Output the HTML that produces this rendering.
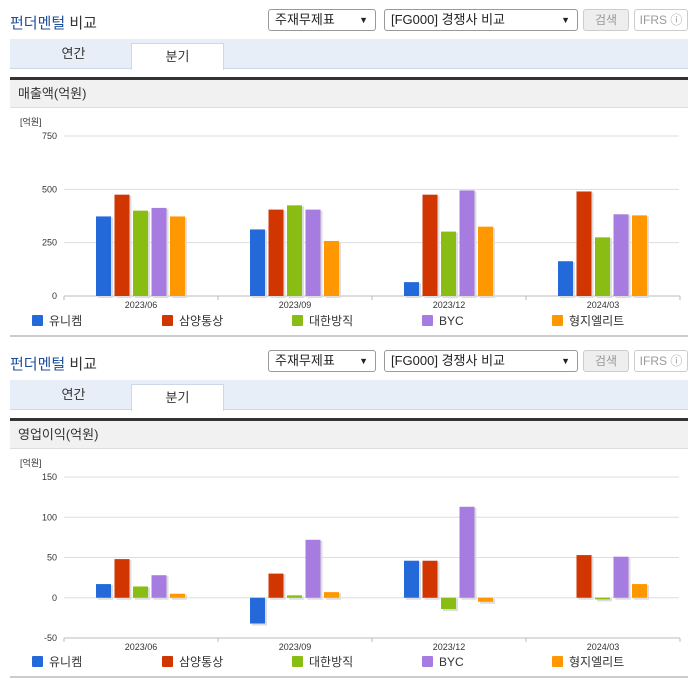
<!DOCTYPE html>
<html><head><meta charset="utf-8">
<style>
body{margin:0;width:696px;height:684px;background:#fff;font-family:"Liberation Sans","Noto Sans CJK KR",sans-serif;position:relative;overflow:hidden}
.blk{position:absolute;left:0;width:696px;height:341px}
.title{position:absolute;left:10px;top:12px;font-size:15px;color:#333}
.title b{font-weight:normal;color:#1f4e9c}
.sel{position:absolute;top:9px;border:1px solid #999;border-radius:3px;font-size:13px;line-height:20px;padding-left:6px;box-sizing:border-box;height:22px;color:#222;background:#fff}
.sel span{position:absolute;right:7px;top:0;font-size:9px}
.btn{position:absolute;top:9px;height:22px;border:1px solid #ccc;border-radius:3px;font-size:12px;line-height:20px;text-align:center;box-sizing:border-box;color:#999}
.tabs{position:absolute;left:10px;top:39px;width:678px;height:29px;background:#e8eef7;border-bottom:1px solid #cfd8e6}
.tab{position:absolute;top:0;height:29px;width:91px;text-align:center;line-height:29px;font-size:13px;color:#333}
.tab.on{background:#fff;border:1px solid #cfd8e6;border-bottom:none;top:4px;height:26px;line-height:26px}
.bar3{position:absolute;left:10px;top:77px;width:678px;height:3px;background:#333}
.sec{position:absolute;left:10px;top:80px;width:678px;height:28px;background:#f1f1f1;border-bottom:1px solid #ddd;font-size:13px;line-height:28px;padding-left:8px;box-sizing:border-box;color:#333}
.bot{position:absolute;left:10px;top:335px;width:678px;height:2px;background:#ccc}
svg{position:absolute;left:0;top:108px}
</style></head><body>
<div class="blk" id="b1" style="top:0">
<div class="title"><b>펀더멘털</b> 비교</div>
<div class="sel" style="left:268px;width:108px">주재무제표<span>▼</span></div>
<div class="sel" style="left:384px;width:194px">[FG000] 경쟁사 비교<span>▼</span></div>
<div class="btn" style="left:583px;width:46px;background:#eee">검색</div>
<div class="btn" style="left:634px;width:54px">IFRS ⓘ</div>
<div class="tabs"><div class="tab" style="left:18px">연간</div><div class="tab on" style="left:121px">분기</div></div>
<div class="bar3"></div>
<div class="sec">매출액(억원)</div>
<svg id="c1" width="696" height="228"></svg>
<div class="bot"></div>
</div>
<div class="blk" id="b2" style="top:341px">
<div class="title"><b>펀더멘털</b> 비교</div>
<div class="sel" style="left:268px;width:108px">주재무제표<span>▼</span></div>
<div class="sel" style="left:384px;width:194px">[FG000] 경쟁사 비교<span>▼</span></div>
<div class="btn" style="left:583px;width:46px;background:#eee">검색</div>
<div class="btn" style="left:634px;width:54px">IFRS ⓘ</div>
<div class="tabs"><div class="tab" style="left:18px">연간</div><div class="tab on" style="left:121px">분기</div></div>
<div class="bar3"></div>
<div class="sec">영업이익(억원)</div>
<svg id="c2" width="696" height="228"></svg>
<div class="bot"></div>
</div>
<script>
const categories=["2023/06","2023/09","2023/12","2024/03"];
const seriesNames=["유니켐","삼양통상","대한방직","BYC","형지엘리트"];
const revUnichem=[373,312,65,163];
const revSamyang=[475,405,475,490];
const revDaehan=[400,425,302,275];
const revBYC=[413,405,495,383];
const revHyungji=[373,258,325,378];
const revTicks=[0,250,500,750];
const opUnichem=[17,-32,46,0];
const opSamyang=[48,30,46,53];
const opDaehan=[14,3,-14,-2];
const opBYC=[28,72,113,51];
const opHyungji=[5,7,-5,17];
const opTicks=[-50,0,50,100,150];
const colors=["#2469d9","#d23600","#8abd14","#a77ce0","#ff9800"];
const NS="http://www.w3.org/2000/svg";
function mk(svg,tag,a){const e=document.createElementNS(NS,tag);for(const k in a)e.setAttribute(k,a[k]);svg.appendChild(e);return e;}
function draw(id,series,ticks,yTop,yBot){
  const svg=document.getElementById(id);
  const x0=64,x1=680,min=ticks[0],max=ticks[ticks.length-1];
  const y=v=>yBot-(v-min)/(max-min)*(yBot-yTop);
  const cw=(x1-x0)/categories.length;
  const lb=mk(svg,'text',{x:20,y:17,'font-size':9,fill:'#333'});lb.textContent='[억원]';
  ticks.forEach(t=>{
    const g=mk(svg,'line',{x1:x0,x2:x1-1,y1:y(t),y2:y(t),stroke:'#ddd'});
    
    
    const tx=mk(svg,'text',{x:57,y:y(t)+3,'font-size':9,fill:'#333','text-anchor':'end'});tx.textContent=t;
    
    
  });
  mk(svg,'line',{x1:x0,x2:x1,y1:yBot,y2:yBot,stroke:'#bbb'});
  for(let i=0;i<=categories.length;i++)mk(svg,'line',{x1:x0+i*cw,x2:x0+i*cw,y1:yBot,y2:yBot+4,stroke:'#bbb'});
  const z=y(0);
  categories.forEach((c,i)=>{
    const cx=x0+cw*(i+0.5);
    series.forEach((s,j)=>{
      const v=s[i];if(v===0)return;
      const bx=cx-45+j*18.5, top=Math.min(y(v),z), h=Math.abs(y(v)-z);
      mk(svg,'rect',{x:bx+2,y:top+1,width:15,height:h+1,fill:'#ddd'});
      const r=mk(svg,'rect',{x:bx,y:top,width:15,height:h,fill:colors[j]});
      
      
    });
    const t=mk(svg,'text',{x:cx,y:yBot+12,'font-size':9,fill:'#333','text-anchor':'middle'});t.textContent=c;
    
    
  });
  seriesNames.forEach((n,j)=>{
    const lx=32+j*130;
    const sq=mk(svg,'rect',{x:lx,y:207,width:11,height:11,fill:colors[j],rx:1});
    
    
    const t=mk(svg,'text',{x:lx+17,y:217,'font-size':12,fill:'#333'});t.textContent=n;
    
    
  });
}
draw('c1',[revUnichem,revSamyang,revDaehan,revBYC,revHyungji],revTicks,28,188);
draw('c2',[opUnichem,opSamyang,opDaehan,opBYC,opHyungji],opTicks,28,189);
</script>
</body></html>
